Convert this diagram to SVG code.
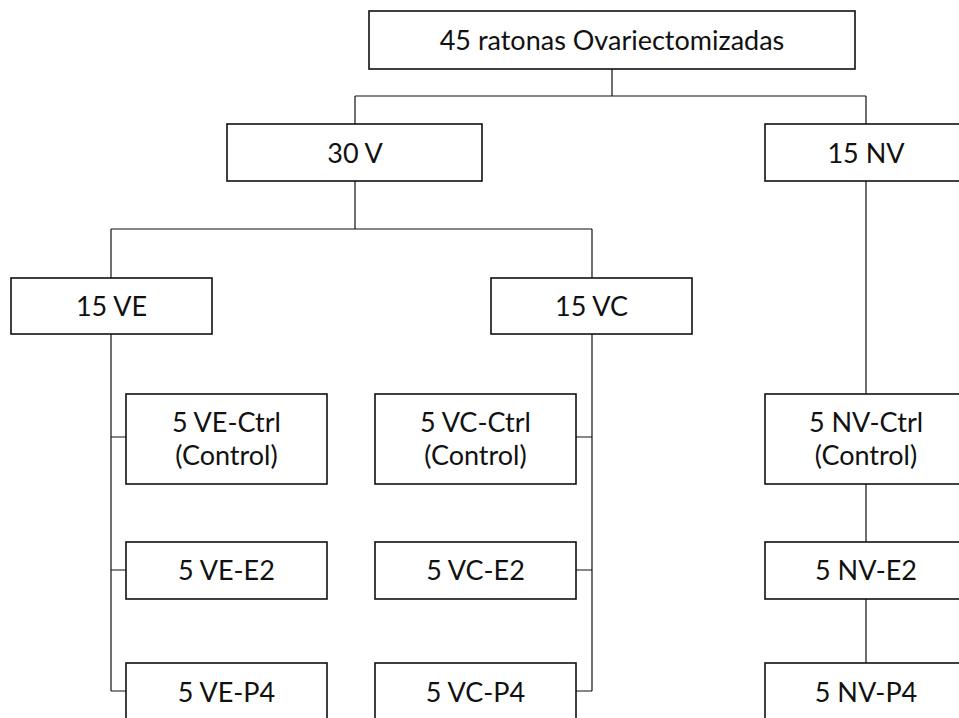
<svg xmlns="http://www.w3.org/2000/svg" width="959" height="718" viewBox="0 0 959 718">
<style>
.box{fill:#fff;stroke:#111;stroke-width:1.6}
.t{font-family:Lato,"Liberation Sans",sans-serif;font-size:27px;fill:#111;text-anchor:middle}
.c{fill:none;stroke:#111;stroke-width:1.2}
</style>
<rect width="959" height="718" fill="#fff"/>
<g id="connectors">
<path class="c" d="M612,69V96M355,96H866M355,96V124M866,96V124"/>
<path class="c" d="M355,181V229M111,229H592M111,229V278M592,229V278"/>
<path class="c" d="M111,334V691M111,437H126M111,570H126M111,691H126"/>
<path class="c" d="M592,334V691M576,437H592M576,570H592M576,691H592"/>
<path class="c" d="M866,181V394M866,484V542M866,599V663"/>
</g>
<g id="n-root"><rect class="box" x="369" y="11" width="486" height="58"/><text class="t" x="612" y="50">45 ratonas Ovariectomizadas</text></g>
<g id="n-30v"><rect class="box" x="227" y="124" width="255" height="57"/><text class="t" x="355" y="163">30 V</text></g>
<g id="n-15nv"><rect class="box" x="765" y="124" width="202" height="57"/><text class="t" x="866" y="163">15 NV</text></g>
<g id="n-15ve"><rect class="box" x="11" y="278" width="201" height="56"/><text class="t" x="111.5" y="316">15 VE</text></g>
<g id="n-15vc"><rect class="box" x="491" y="278" width="201" height="56"/><text class="t" x="591.5" y="316">15 VC</text></g>
<g id="n-ve-ctrl"><rect class="box" x="126" y="394" width="201" height="90"/><text class="t" x="226.5" y="432">5 VE-Ctrl</text><text class="t" x="226.5" y="465">(Control)</text></g>
<g id="n-vc-ctrl"><rect class="box" x="375" y="394" width="201" height="90"/><text class="t" x="475.5" y="432">5 VC-Ctrl</text><text class="t" x="475.5" y="465">(Control)</text></g>
<g id="n-nv-ctrl"><rect class="box" x="765" y="394" width="202" height="90"/><text class="t" x="866" y="432">5 NV-Ctrl</text><text class="t" x="866" y="465">(Control)</text></g>
<g id="n-ve-e2"><rect class="box" x="126" y="542" width="201" height="57"/><text class="t" x="226.5" y="580">5 VE-E2</text></g>
<g id="n-vc-e2"><rect class="box" x="375" y="542" width="201" height="57"/><text class="t" x="475.5" y="580">5 VC-E2</text></g>
<g id="n-nv-e2"><rect class="box" x="765" y="542" width="202" height="57"/><text class="t" x="866" y="580">5 NV-E2</text></g>
<g id="n-ve-p4"><rect class="box" x="126" y="663" width="201" height="70"/><text class="t" x="226.5" y="702">5 VE-P4</text></g>
<g id="n-vc-p4"><rect class="box" x="375" y="663" width="201" height="70"/><text class="t" x="475.5" y="702">5 VC-P4</text></g>
<g id="n-nv-p4"><rect class="box" x="765" y="663" width="202" height="70"/><text class="t" x="866" y="702">5 NV-P4</text></g>
</svg>
